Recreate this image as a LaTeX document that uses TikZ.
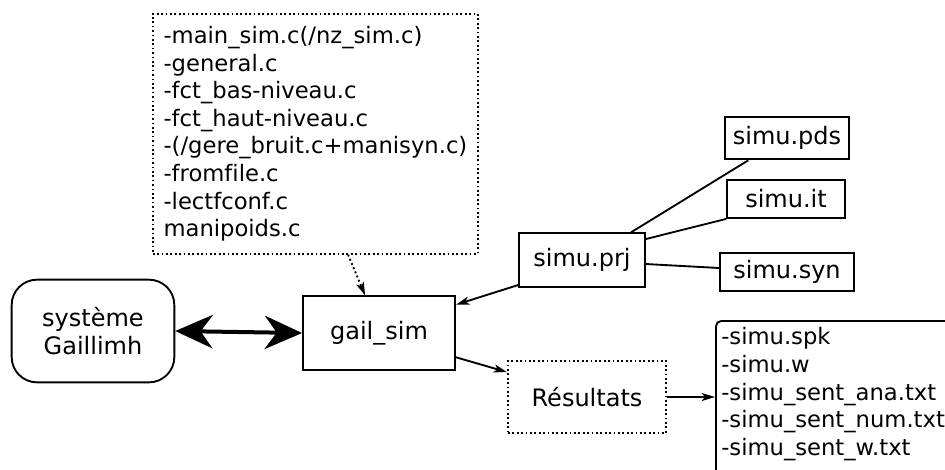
\documentclass[tikz,border=0pt]{standalone}
\usepackage{fontspec}
\setmainfont[Ligatures=CommonOff]{DejaVu Sans}
\usetikzlibrary{positioning, arrows.meta, calc}
\tikzset{
  txt/.style={font=\fontsize{17}{20.7}\selectfont},
  lbl/.style={font=\fontsize{18}{21.5}\selectfont},
  fbox/.style={draw, line width=1.4pt, lbl, inner sep=0pt, align=center},
  dbox/.style={draw, dotted, line width=1.3pt, txt, align=left},
  link/.style={line width=1.4pt},
  sarr/.style={link, -{Stealth[length=10pt, width=6pt, inset=2.5pt]}},
  darr/.style={line width=3pt, {Stealth[length=28pt, width=25pt, inset=9pt]}-{Stealth[length=28pt, width=25pt, inset=9pt]}},
}

\begin{document}
\begin{tikzpicture}[x=0.75pt, y=-0.75pt]

  \clip (0,0) rectangle (945,469);

  % --- main blocks -------------------------------------------------
  \node[fbox, rounded corners=19pt, minimum width=122pt, minimum height=77pt] (sys) at (93,331) {système\\Gaillimh};
  \node[fbox, minimum width=114pt, minimum height=55pt] (gail) at (379,333) {gail\_sim};
  \node[dbox, anchor=north west, inner xsep=8pt, minimum width=243.75pt, minimum height=180pt] (src) at (152,13)
        {-main\_sim.c(/nz\_sim.c)\\-general.c\\-fct\_bas-niveau.c\\-fct\_haut-niveau.c\\-(/gere\_bruit.c+manisyn.c)\\-fromfile.c\\-lectfconf.c\\manipoids.c};

  % --- project files -----------------------------------------------
  \node[fbox, minimum width=94pt, minimum height=40pt] (prj) at (582,260) {simu.prj};
  \node[fbox, minimum width=93pt, minimum height=32pt] (pds) at (787,138) {simu.pds};
  \node[fbox, minimum width=88.5pt, minimum height=28.5pt] (it) at (786,199) {simu.it};
  \node[fbox, minimum width=100pt, minimum height=28pt] (syn) at (787,272) {simu.syn};

  % --- results -----------------------------------------------------
  \node[dbox, lbl, align=center, inner sep=0pt, minimum width=118.5pt, minimum height=54pt] (res) at (587,397) {Résultats};
  \node[draw, line width=1.4pt, rounded corners=4pt, txt, align=left, anchor=north west, inner xsep=4pt, inner ysep=5pt,
        text width=205pt] (out) at (715,320)
        {-simu.spk\\-simu.w\\-simu\_sent\_ana.txt\\-simu\_sent\_num.txt\\-simu\_sent\_w.txt\\\mbox{}};

  % --- connectors --------------------------------------------------
  \draw[darr] (sys.east) -- (gail.west);
  \draw[sarr, dotted] ($(src.south west)!0.6!(src.south east)$) -- ($(gail.north west)!0.41!(gail.north east)$);
  \draw[sarr] ([yshift=2pt]prj.south west) -- ([yshift=-7pt]gail.north east);
  \draw[link] ([xshift=-11pt]prj.north east) -- ([xshift=-29pt]pds.south);
  \draw[link] ([yshift=-5pt]prj.north east) -- (it.south west);
  \draw[link] ([yshift=-3pt]prj.east) -- ([yshift=3pt]syn.west);
  \draw[sarr] ([yshift=10pt]gail.south east) -- ([yshift=-9pt]res.north west);
  \draw[sarr] (res.east) -- (res.east -| out.west);

\end{tikzpicture}
\end{document}
